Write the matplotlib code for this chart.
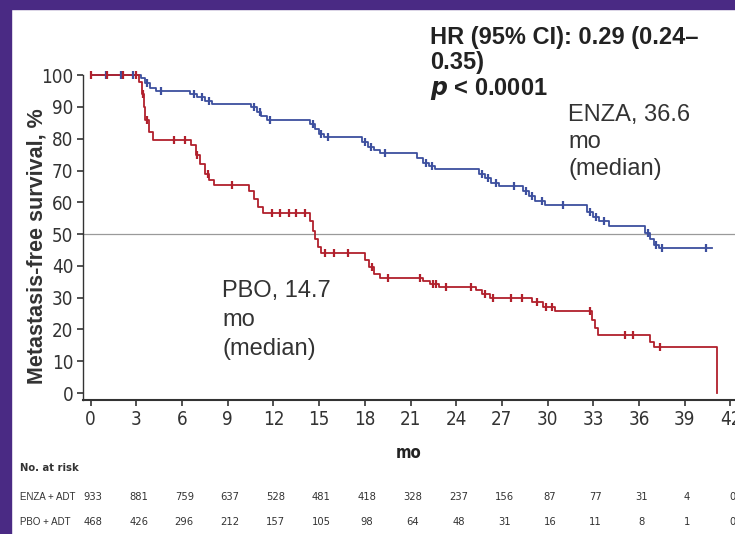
import matplotlib
matplotlib.use("Agg")
import matplotlib.pyplot as plt
import matplotlib.transforms as mtransforms
from matplotlib.patches import Rectangle
from matplotlib import font_manager as fm

# ---------------- data ----------------
enza_t = [0, 3.3, 3.6, 3.9, 4.3, 6.5, 7.0, 7.5, 8.0, 10.5, 10.9, 11.2, 11.6,
          14.4, 14.7, 15.0, 15.3, 17.8, 18.2, 18.6, 19.0, 21.4, 21.8, 22.2, 22.6,
          25.5, 25.9, 26.3, 26.8, 28.4, 28.8, 29.2, 29.8, 32.6, 33.0, 33.4, 34.0,
          36.4, 36.7, 37.0, 37.3, 40.8]
enza_s = [100, 99, 97.5, 96, 95, 94, 93, 92, 91, 90, 88.5, 87, 86,
          84.5, 83, 81.5, 80.5, 79, 77.5, 76.5, 75.5, 74, 72.5, 71.5, 70.5,
          69, 67.5, 66, 65, 63.5, 62, 60.5, 59, 57, 55.5, 54, 52.5,
          50.5, 48.5, 46.5, 45.5, 45.5]
enza_cens = [1.0, 2.0, 2.8, 3.7, 4.6, 6.8, 7.3, 7.8, 10.7, 11.1, 11.8, 14.6, 15.1,
             15.6, 18.0, 18.4, 19.3, 22.0, 22.4, 25.7, 26.1, 26.6, 27.8, 28.6, 29.0,
             29.6, 31.0, 32.8, 33.2, 33.7, 36.6, 37.1, 37.5, 40.4]

pbo_t = [0, 3.2, 3.4, 3.5, 3.6, 3.8, 4.1, 6.6, 6.9, 7.2, 7.5, 7.8, 8.1,
         10.4, 10.7, 11.0, 11.3, 14.4, 14.6, 14.7, 14.9, 15.1, 18.0, 18.3, 18.6, 19.0,
         21.8, 22.3, 22.9, 25.3, 25.7, 26.2, 29.0, 29.7, 30.5, 32.9, 33.1, 33.3,
         36.7, 37.0, 41.1, 41.1]
pbo_s = [100, 98, 94, 90, 86, 82, 79.5, 78, 75, 72, 69, 67, 65.5,
         63.5, 61, 58.5, 56.5, 54, 51, 48.5, 46, 44, 42, 39.5, 37.5, 36.2,
         35.3, 34.3, 33.4, 32.5, 31.2, 30, 28.5, 27, 25.7, 23, 20.5, 18.3,
         16, 14.5, 14.5, 0]
pbo_cens = [0.0, 1.05, 2.1, 3.0, 3.45, 3.7, 5.5, 6.2, 7.0, 7.7, 9.3, 11.9, 12.4,
            13.0, 13.5, 14.1, 15.4, 16.0, 16.9, 18.5, 19.5, 21.6, 22.5, 22.7, 23.3,
            25.0, 25.9, 26.4, 27.6, 28.3, 29.3, 29.9, 30.3, 32.8, 35.1, 35.6, 37.4]

xticks = list(range(0, 43, 3))
yticks = list(range(0, 101, 10))

risk_labels = ["ENZA + ADT", "PBO + ADT"]
enza_risk = [933, 881, 759, 637, 528, 481, 418, 328, 237, 156, 87, 77, 31, 4, 0]
pbo_risk = [468, 426, 296, 212, 157, 105, 98, 64, 48, 31, 16, 11, 8, 1, 0]

BLUE = "#3d4f9e"
RED = "#b1202c"
ARIAL = ["Liberation Sans", "DejaVu Sans"]


def narrow_props(size, weight="normal"):
    for f in fm.fontManager.ttflist:
        n = f.name.lower()
        if ("narrow" in n or "condensed" in n or f.stretch in ("condensed", "semi-condensed")) \
                and "mono" not in n and "serif" not in n and f.style == "normal" \
                and (f.weight in (400, "normal", "regular") if weight == "normal" else f.weight in (700, "bold")):
            return fm.FontProperties(fname=f.fname, size=size)
    return fm.FontProperties(family=ARIAL, size=size * 0.85, weight=weight)


W, H = 735, 534
fig = plt.figure(figsize=(W / 100, H / 100), dpi=100)
fig.patch.set_facecolor("white")

# purple frame
fig.patches.append(Rectangle((0, 0), 11 / W, 1, transform=fig.transFigure,
                             color="#4a2a84", zorder=0))
fig.patches.append(Rectangle((0, 1 - 9 / H), 1, 9 / H, transform=fig.transFigure,
                             color="#4a2a84", zorder=0))

ax = fig.add_axes([83 / W, 1 - 400 / H, 652 / W, 328 / H])
ax.set_xlim(-0.5, 42.3)
ax.set_ylim(-2.2, 101)

ax.axhline(50, color="#9a9a9a", lw=0.9, zorder=1, clip_on=False)

ax.step(enza_t, enza_s, where="post", color=BLUE, lw=1.3, zorder=3, clip_on=False)
ax.step(pbo_t, pbo_s, where="post", color=RED, lw=1.3, zorder=3, clip_on=False)


def surv_at(ts, ss, x):
    v = ss[0]
    for t, s in zip(ts, ss):
        if t <= x:
            v = s
    return v


ax.plot(enza_cens, [surv_at(enza_t, enza_s, c) for c in enza_cens], ls="none",
        marker="|", ms=6, mew=1.6, color=BLUE, zorder=4, clip_on=False)
ax.plot(pbo_cens, [surv_at(pbo_t, pbo_s, c) for c in pbo_cens], ls="none",
        marker="|", ms=6, mew=1.6, color=RED, zorder=4, clip_on=False)

for s in ["top", "right"]:
    ax.spines[s].set_visible(False)
ax.spines["left"].set_bounds(-2.2, 100)
ax.spines["left"].set_color("#333333")
ax.spines["bottom"].set_color("#333333")
ax.spines["left"].set_linewidth(1.0)
ax.spines["bottom"].set_linewidth(1.5)

tick_fp = narrow_props(13.5)
ax.set_xticks(xticks)
ax.set_yticks(yticks)
ax.set_xticklabels([str(v) for v in xticks], fontproperties=tick_fp, color="#333333")
ax.set_yticklabels([str(v) for v in yticks], fontproperties=tick_fp, color="#333333")
ax.tick_params(axis="both", direction="out", length=4, width=1.2, colors="#333333", pad=3)

ax.set_xlabel("mo", fontproperties=narrow_props(12, "bold"), color="#222222", labelpad=11)

fig.text(37 / W, 1 - 246 / H, "Metastasis-free survival, %", rotation=90,
         ha="center", va="center", family=ARIAL, fontsize=15.5, fontweight="bold",
         color="#333333")

fig.text(430 / W, 1 - 26 / H, "HR (95% CI): 0.29 (0.24–\n0.35)\n$\\bfit{p}$ < 0.0001",
         ha="left", va="top", family=ARIAL, fontsize=17, fontweight="bold",
         color="#222222", linespacing=1.1)
fig.text(568 / W, 1 - 104 / H, "ENZA, 36.6\nmo\n(median)", ha="left", va="top",
         family=ARIAL, fontsize=17, color="#333333", linespacing=1.3)
fig.text(222 / W, 1 - 280 / H, "PBO, 14.7\nmo\n(median)", ha="left", va="top",
         family=ARIAL, fontsize=17, color="#333333", linespacing=1.42)

# number at risk table
small = narrow_props(8)
fig.text(20 / W, 1 - 468 / H, "No. at risk", ha="left", va="center",
         fontproperties=narrow_props(8, "bold"), color="#333333")
trans = mtransforms.blended_transform_factory(ax.transData, fig.transFigure)
for lab, vals, yp in [(risk_labels[0], enza_risk, 497), (risk_labels[1], pbo_risk, 522)]:
    fig.text(20 / W, 1 - yp / H, lab, ha="left", va="center",
             family=ARIAL, fontsize=7, color="#333333")
    for x, v in zip(xticks, vals):
        ax.text(x + 0.15, 1 - yp / H, str(v), transform=trans, ha="center", va="center",
                fontproperties=small, color="#333333", clip_on=False)

fig.savefig("out.png", dpi=100, facecolor=fig.get_facecolor())
